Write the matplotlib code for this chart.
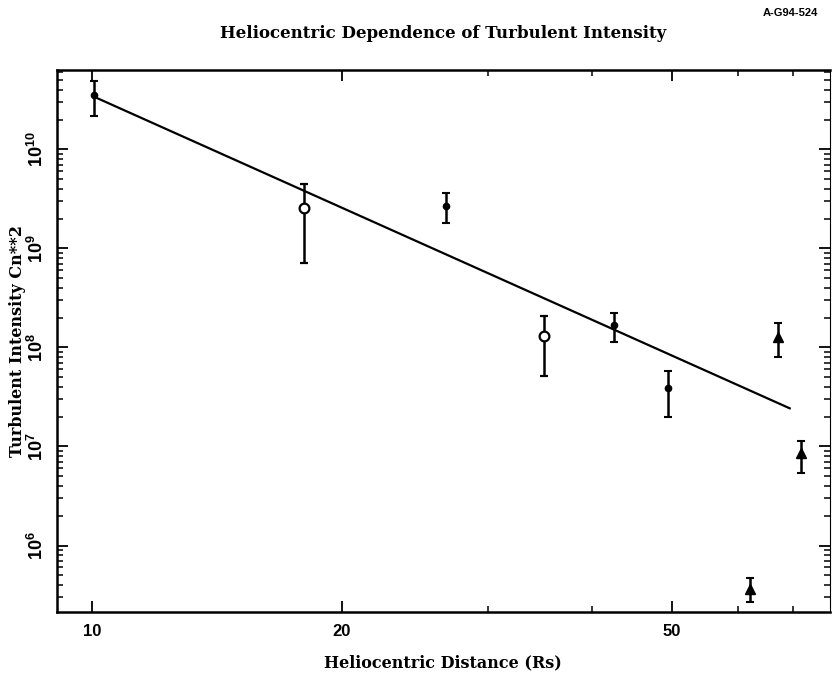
import matplotlib
matplotlib.use("Agg")
import matplotlib.pyplot as plt
from matplotlib.ticker import LogLocator, FixedLocator, NullFormatter, LogFormatterMathtext

# ---- data ----
dot_x = [10.06, 26.7, 42.5, 49.5]
dot_y = [3.55e10, 2.69e9, 1.69e8, 3.9e7]
dot_lo = [2.18e10, 1.81e9, 1.14e8, 1.99e7]
dot_hi = [4.92e10, 3.64e9, 2.25e8, 5.82e7]

circ_x = [18.0, 35.0]
circ_y = [2.56e9, 1.31e8]
circ_lo = [7.14e8, 5.19e7]
circ_hi = [4.48e9, 2.08e8]

tri_x = [62.1, 67.1, 71.5]
tri_y = [3.66e5, 1.29e8, 8.54e6]
tri_lo = [2.71e5, 8.07e7, 5.44e6]
tri_hi = [4.73e5, 1.78e8, 1.14e7]

fit_x = [10.06, 69.3]
fit_y = [3.4e10, 2.43e7]

x_major = [10, 20, 50]
x_labels = ["10", "20", "50"]
x_minor = [30, 40, 60, 70]

title = "Heliocentric Dependence of Turbulent Intensity"
xlabel = "Heliocentric Distance (Rs)"
ylabel = "Turbulent Intensity Cn**2"
tag = "A-G94-524"

# ---- figure ----
fig = plt.figure(figsize=(8.34, 6.76), dpi=100)
ax = fig.add_axes([57/834, 1 - 612/676, (830-57)/834, (612-70)/676])
ax.set_xscale("log")
ax.set_yscale("log")
ax.set_xlim(9.07, 77.5)
ax.set_ylim(2.13e5, 6.35e10)

def errs(y, lo, hi):
    return [[a - b for a, b in zip(y, lo)], [b - a for a, b in zip(y, hi)]]

ax.plot(fit_x, fit_y, color="black", lw=1.6)
ax.errorbar(dot_x, dot_y, yerr=errs(dot_y, dot_lo, dot_hi), fmt="o", color="black",
            ms=4.5, elinewidth=1.8, capsize=3, capthick=1.5)
ax.errorbar(circ_x, circ_y, yerr=errs(circ_y, circ_lo, circ_hi), fmt="o", color="black",
            mfc="white", mec="black", mew=1.6, ms=7, elinewidth=1.8, capsize=3, capthick=1.5)
ax.errorbar(tri_x, tri_y, yerr=errs(tri_y, tri_lo, tri_hi), fmt="^", color="black",
            ms=7.5, elinewidth=1.8, capsize=3, capthick=1.5)

# ticks
ax.xaxis.set_major_locator(FixedLocator(x_major))
ax.xaxis.set_minor_locator(FixedLocator(x_minor))
ax.set_xticklabels(x_labels)
ax.xaxis.set_minor_formatter(NullFormatter())
ax.yaxis.set_major_locator(LogLocator(base=10, numticks=20))
ax.yaxis.set_minor_locator(LogLocator(base=10, subs=range(2, 10), numticks=20))
ax.yaxis.set_major_formatter(LogFormatterMathtext())
ax.yaxis.set_minor_formatter(NullFormatter())

ax.tick_params(axis="both", which="major", direction="in", length=8, width=1.3,
               top=True, right=True)
ax.tick_params(axis="both", which="minor", direction="in", length=4.5, width=1.1,
               top=True, right=True)
ax.tick_params(axis="x", which="major", pad=9)
ax.tick_params(axis="y", which="major", pad=7)
for lab in ax.get_xticklabels():
    lab.set_fontfamily("Liberation Sans")
    lab.set_fontweight("bold")
    lab.set_fontsize(12)
for lab in ax.get_yticklabels():
    lab.set_fontfamily("Liberation Sans")
    lab.set_fontweight("bold")
    lab.set_fontsize(13)
    lab.set_rotation(90)
    lab.set_va("center")

for side in ["left", "bottom", "top"]:
    ax.spines[side].set_linewidth(1.8)
ax.spines["right"].set_linewidth(0.8)

serif = dict(family="DejaVu Serif", weight="bold")
fig.text(443/834, 1 - 33/676, title, ha="center", va="center", fontsize=12, **serif)
fig.text(818/834, 1 - 13/676, tag, ha="right", va="center", fontsize=8,
         family="Liberation Sans", weight="bold")
fig.text(443/834, 1 - 663/676, xlabel, ha="center", va="center", fontsize=11.5, **serif)
fig.text(18/834, 1 - 341/676, ylabel, ha="center", va="center", rotation=90,
         fontsize=11.5, **serif)

fig.savefig("out.png", dpi=100)
